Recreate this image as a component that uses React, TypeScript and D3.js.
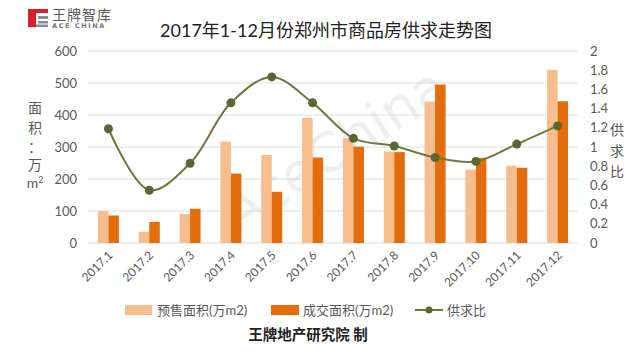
import React from 'react';
import * as d3 from 'd3';

// monthly data
const months = ['2017.1', '2017.2', '2017.3', '2017.4', '2017.5', '2017.6', '2017.7', '2017.8', '2017.9', '2017.10', '2017.11', '2017.12'];
const presale = [100, 35, 90, 317, 275, 391, 327, 286, 442, 229, 242, 541];
const deals = [86, 66, 107, 217, 160, 267, 301, 284, 495, 266, 235, 443];
const ratio = [1.19, 0.55, 0.83, 1.46, 1.73, 1.46, 1.09, 1.01, 0.89, 0.85, 1.03, 1.22];
const leftTicks = [0, 100, 200, 300, 400, 500, 600];
const rightTicks = [0, 0.2, 0.4, 0.6, 0.8, 1, 1.2, 1.4, 1.6, 1.8, 2];

const W = 639;
const H = 353;
const plot = { left: 88, right: 578, top: 51, bottom: 243 };

const LIGHT = '#f8bd8c';
const DARK = '#e46c0a';
const LINE = '#6d7a3c';
const DOT = '#5a6730';
const TXT = '#595959';
const FONT = "Lato, 'Noto Sans CJK SC', sans-serif";

const App = () => {
  const x = d3.scaleBand<string>().domain(months).range([plot.left, plot.right]);
  const sub = d3.scaleBand<string>().domain(['pre', 'deal']).range([-10.5, 10.5]);
  const yL = d3.scaleLinear().domain([0, 600]).range([plot.bottom, plot.top]);
  const yR = d3.scaleLinear().domain([0, 2]).range([plot.bottom, plot.top]);
  const cx = (m: string) => (x(m) as number) + x.bandwidth() / 2;

  const line = d3
    .line<number>()
    .x((_, i) => cx(months[i]))
    .y((d) => yR(d))
    .curve(d3.curveCatmullRom.alpha(0.5));

  return (
    <div style={{ position: 'absolute', left: 0, top: 0 }}>
      <svg width={W} height={H} style={{ display: 'block', background: '#fff' }} fontFamily={FONT}>
        {/* logo */}
        <g>
          <rect x={28} y={9} width={8} height={18} fill="#d7202a" />
          <rect x={36} y={9} width={12} height={4} fill="#d7202a" />
          <rect x={38} y={16} width={10} height={3} fill="#8c8c8c" />
          <rect x={38} y={21} width={10} height={2.5} fill="#8c8c8c" />
          <rect x={36} y={24.5} width={12} height={2.5} fill="#8c8c8c" />
          <text x={52} y={20} fontSize={14} fill="#555" letterSpacing={1}>王牌智库</text>
          <text x={52} y={28} fontSize={6.5} fontWeight="bold" fill="#777" letterSpacing={1.6} fontFamily="'DejaVu Sans', sans-serif">ACE CHINA</text>
        </g>

        <text x={326} y={37} textAnchor="middle" fontSize={18} fill="#222">2017年1-12月份郑州市商品房供求走势图</text>

        {/* grid */}
        {leftTicks.map((t) => (
          <line key={t} x1={plot.left} x2={plot.right} y1={yL(t)} y2={yL(t)} stroke="#dedede" strokeWidth={1} />
        ))}

        {/* watermark */}
        <text x={345} y={165} textAnchor="middle" fontSize={54} fill="#c9d2dc" opacity={0.35}
          transform="rotate(-33 345 165)" fontFamily="'DejaVu Sans', sans-serif">AceChina</text>

        {/* bars */}
        {months.map((m, i) => (
          <g key={m}>
            <rect x={cx(m) + (sub('pre') as number)} y={yL(presale[i])} width={sub.bandwidth()}
              height={plot.bottom - yL(presale[i])} fill={LIGHT} />
            <rect x={cx(m) + (sub('deal') as number)} y={yL(deals[i])} width={sub.bandwidth()}
              height={plot.bottom - yL(deals[i])} fill={DARK} />
          </g>
        ))}

        {/* supply/demand ratio */}
        <path d={line(ratio) as string} fill="none" stroke={LINE} strokeWidth={2} />
        {ratio.map((r, i) => (
          <circle key={i} cx={cx(months[i])} cy={yR(r)} r={4.5} fill={DOT} />
        ))}

        {/* left axis */}
        {leftTicks.map((t) => (
          <text key={t} x={77} y={yL(t)} dy="0.35em" textAnchor="end" fontSize={13} fill={TXT}>{t}</text>
        ))}
        {['面', '积', '：', '万'].map((c, i) => (
          <text key={c} x={35} y={[108, 128, 147, 165][i]} dy="0.35em" textAnchor="middle" fontSize={14} fill={TXT}>{c}</text>
        ))}
        <text x={35} y={183} dy="0.35em" textAnchor="middle" fontSize={14} fill={TXT}>
          m<tspan fontSize={9} dy={-5}>2</tspan>
        </text>

        {/* right axis */}
        {rightTicks.map((t) => (
          <text key={t} x={590} y={yR(t)} dy="0.35em" fontSize={13} fill={TXT}>{t}</text>
        ))}
        {['供', '求', '比'].map((c, i) => (
          <text key={c} x={617} y={[130, 151, 172][i]} dy="0.35em" textAnchor="middle" fontSize={14} fill={TXT}>{c}</text>
        ))}

        {/* x labels */}
        {months.map((m) => (
          <text key={m} transform={`translate(${cx(m) + 2},${plot.bottom + 10}) rotate(-45)`} textAnchor="end"
            dy="0.35em" fontSize={12} fill={TXT}>{m}</text>
        ))}

        {/* legend */}
        <rect x={125} y={305} width={27} height={10} fill={LIGHT} />
        <text x={157} y={310} dy="0.35em" fontSize={13} fill={TXT}>预售面积(万m2)</text>
        <rect x={271} y={305} width={28} height={10} fill={DARK} />
        <text x={303} y={310} dy="0.35em" fontSize={13} fill={TXT}>成交面积(万m2)</text>
        <line x1={415} x2={443} y1={310} y2={310} stroke={LINE} strokeWidth={2} />
        <circle cx={429} cy={310} r={3.5} fill={DOT} />
        <text x={447} y={310} dy="0.35em" fontSize={13} fill={TXT}>供求比</text>

        <text x={308} y={335} dy="0.35em" textAnchor="middle" fontSize={14.5} fontWeight="bold" fill="#222">王牌地产研究院 制</text>
      </svg>
    </div>
  );
};

export default App;
